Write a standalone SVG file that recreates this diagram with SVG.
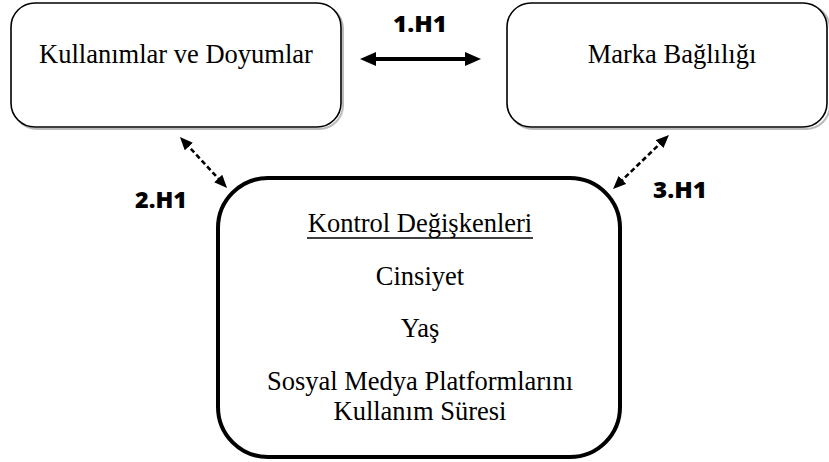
<svg xmlns="http://www.w3.org/2000/svg" width="829" height="462" viewBox="0 0 829 462">
<defs>
<style>
.box{fill:#fff;stroke:#000;stroke-width:1.6}
.shadow{fill:none;stroke:#bbb;stroke-width:2}
.big{fill:#fff;stroke:#000;stroke-width:4}
.t{font-family:"Liberation Serif","Times New Roman",serif;font-size:26.5px;fill:#000;text-anchor:middle}
.lab{font-family:"Open Sans","Liberation Sans",sans-serif;font-weight:800;font-size:23px;fill:#000}
.solid{stroke:#000;stroke-width:4;fill:none}
.dash{stroke:#000;stroke-width:2.6;stroke-dasharray:5 3;fill:none}
</style>
<marker id="ah" viewBox="0 0 16 14" refX="6" refY="7" markerWidth="16" markerHeight="14" orient="auto-start-reverse" markerUnits="userSpaceOnUse">
<path d="M0,0 L16,7 L0,14 Z" fill="#000"/>
</marker>
<marker id="ahd" viewBox="0 0 13 11" refX="5" refY="5.5" markerWidth="13" markerHeight="11" orient="auto-start-reverse" markerUnits="userSpaceOnUse">
<path d="M0,0 L13,5.5 L0,11 Z" fill="#000"/>
</marker>
</defs>
<rect width="829" height="462" fill="#fff"/>
<g id="node-kullanimlar">
<rect class="shadow" x="13" y="5" width="330" height="124" rx="24"/>
<rect class="box" x="11" y="3" width="330" height="124" rx="24"/>
<text class="t" x="176" y="63">Kullanımlar ve Doyumlar</text>
</g>
<g id="node-marka">
<rect class="shadow" x="509" y="5" width="321" height="124" rx="24"/>
<rect class="box" x="507" y="3" width="320" height="124" rx="24"/>
<text class="t" x="672" y="63">Marka Bağlılığı</text>
</g>
<g id="node-kontrol">
<rect class="big" x="218" y="178" width="402" height="279" rx="50"/>
<text class="t" x="420" y="232">Kontrol Değişkenleri</text>
<line x1="307" y1="238" x2="533" y2="238" stroke="#000" stroke-width="1.3"/>
<text class="t" x="420" y="285">Cinsiyet</text>
<text class="t" x="420" y="337">Yaş</text>
<text class="t" x="420" y="390">Sosyal Medya Platformlarını</text>
<text class="t" x="420" y="420">Kullanım Süresi</text>
</g>
<g id="connectors">
<line class="solid" x1="370" y1="59" x2="471" y2="59" marker-start="url(#ah)" marker-end="url(#ah)"/>
<line class="dash" x1="185.4" y1="142.9" x2="221.6" y2="182.1" marker-start="url(#ahd)" marker-end="url(#ahd)"/>
<line class="dash" x1="663.2" y1="140.6" x2="618.8" y2="183.4" marker-start="url(#ahd)" marker-end="url(#ahd)"/>
</g>
<g id="labels">
<text class="lab" x="393" y="32" textLength="54" lengthAdjust="spacingAndGlyphs">1.H1</text>
<text class="lab" x="135" y="208" textLength="52" lengthAdjust="spacingAndGlyphs">2.H1</text>
<text class="lab" x="653" y="198" textLength="54" lengthAdjust="spacingAndGlyphs">3.H1</text>
</g>
</svg>
